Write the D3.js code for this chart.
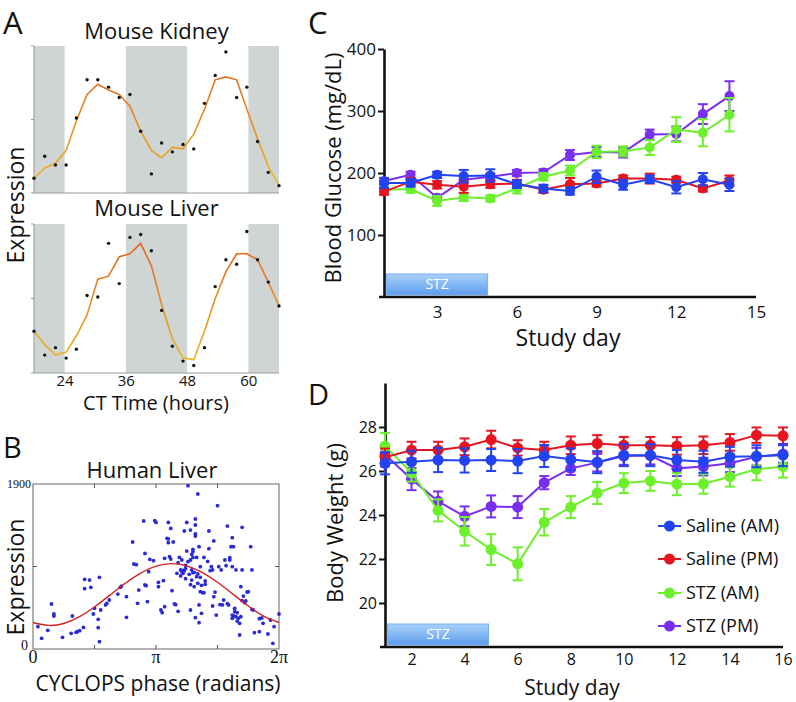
<!DOCTYPE html>
<html><head><meta charset="utf-8">
<script src="https://cdn.jsdelivr.net/npm/d3@7"></script>
<style>
body{margin:0;background:#fff;}
svg{display:block;}
text{font-family:"Open Sans",sans-serif;fill:#111;}
</style>
</head><body>
<svg id="fig" width="796" height="702"></svg>
<script>
// ---------- Panel A data ----------
const ctHours = [18,20.1,22.2,24.3,26.3,28.4,30.5,32.6,34.7,36.8,38.9,41.0,43.0,45.1,47.2,49.3,51.4,53.5,55.6,57.7,59.7,61.8,63.9,66];
const darkBands = [[18,24],[36,48],[60,66]];
const ctTicks = [24,36,48,60];
const kidneyObs = [0.10,0.25,0.19,0.19,0.51,0.77,0.77,0.72,0.65,0.67,0.42,0.13,0.34,0.28,0.33,0.30,0.61,0.80,0.96,0.65,0.72,0.35,0.14,0.05];
const kidneyFit = [0.10,0.17,0.20,0.29,0.49,0.67,0.74,0.70,0.67,0.59,0.42,0.29,0.24,0.31,0.30,0.40,0.57,0.77,0.79,0.77,0.57,0.37,0.18,0.05];
const liverObs = [0.28,0.12,0.17,0.10,0.16,0.52,0.51,0.87,0.60,0.91,0.93,0.82,0.42,0.18,0.08,0.05,0.17,0.58,0.76,0.73,0.95,0.76,0.61,0.45];
const liverFit = [0.28,0.19,0.12,0.14,0.25,0.39,0.63,0.65,0.78,0.80,0.87,0.72,0.46,0.23,0.10,0.09,0.28,0.50,0.68,0.80,0.80,0.76,0.61,0.45];

// ---------- Panel B data (phase in units of pi, expression) ----------
const phaseTicks = [0,1,2];
const phaseTickLabels = ["0","\u03c0","2\u03c0"];
const exprTicks = [0,1900];
const humanFitPhase = [0,0.125,0.25,0.375,0.5,0.625,0.75,0.875,1,1.125,1.25,1.375,1.5,1.625,1.75,1.875,2];
const humanFitExpr = [305,272,294,370,484,620,757,874,954,983,958,882,768,632,495,378,305];
const humanSamples = [[0.04,257],[0.07,123],[0.12,215],[0.15,518],[0.17,403],[0.17,380],[0.24,134],[0.32,380],[0.31,180],[0.35,192],[0.36,200],[0.38,211],[0.41,249],[0.42,802],[0.46,794],[0.42,695],[0.47,710],[0.49,403],[0.54,825],[0.53,342],[0.53,246],[0.54,84],[0.50,468],[0.55,449],
[0.59,507],[0.60,526],[0.62,564],[0.69,633],[0.71,710],[0.72,725],[0.76,365],[0.76,603],[0.81,1232],[0.82,979],[0.84,971],[0.85,526],[0.86,679],[0.91,1101],[0.91,737],[0.92,729],[0.93,545],[0.94,890],[0.95,1032],[0.98,1017],[0.90,1474],[0.99,1478],[1.00,1458],
[1.02,718],[1.02,768],[1.04,449],[1.05,418],[1.06,787],[1.07,487],[1.07,1044],[1.09,1274],[1.10,1267],[1.10,1224],[1.10,1458],[1.12,1389],[1.11,1063],[1.12,1036],[1.13,672],[1.14,1232],[1.15,518],[1.16,510],[1.17,871],[1.18,434],[1.18,994],[1.19,1055],[1.20,910],[1.20,841],[1.21,890],[1.21,1025],[1.22,906],[1.22,871],[1.23,902],[1.23,1359],[1.24,925],[1.24,963],[1.24,810],[1.25,1458],[1.25,1128],[1.26,1881],[1.26,1006],[1.27,860],[1.28,1370],[1.28,741],[1.28,449],[1.28,1025],[1.29,910],[1.29,794],[1.29,1090],[1.30,1055],[1.30,1148],[1.30,879],[1.30,1121],[1.31,718],[1.31,883],[1.32,1324],[1.32,1301],[1.32,1497],[1.32,1428],[1.32,361],[1.33,1055],[1.33,833],[1.34,864],[1.34,756],[1.34,1785],[1.35,1178],[1.35,507],[1.35,303],[1.36,948],[1.36,825],[1.36,660],[1.37,411],[1.37,733],[1.38,649],
[1.39,1055],[1.39,649],[1.40,783],[1.40,745],[1.42,1009],[1.43,1359],[1.43,1155],[1.44,902],[1.45,948],[1.46,495],[1.46,910],[1.47,1244],[1.47,603],[1.48,656],[1.49,391],[1.50,1650],[1.51,948],[1.52,510],[1.53,910],[1.54,507],[1.55,564],[1.56,1025],[1.57,960],[1.58,1416],[1.58,522],[1.59,507],[1.60,1025],[1.60,1052],[1.61,1178],[1.62,1282],[1.62,948],[1.62,391],[1.63,1178],[1.62,353],[1.63,380],[1.64,430],[1.64,468],[1.65,372],[1.65,910],[1.66,322],[1.66,418],[1.67,353],[1.68,161],[1.68,296],[1.69,718],[1.69,372],[1.70,910],[1.70,1401],[1.70,557],[1.71,610],[1.72,533],[1.73,553],[1.74,656],
[1.75,660],[1.77,1178],[1.78,910],[1.78,457],[1.79,449],[1.80,188],[1.84,200],[1.84,349],[1.86,357],[1.87,296],[1.91,173],[1.93,334],[1.95,65],[1.96,257],[2.00,403]];

// ---------- Panels C & D data ----------
const seriesNames = ["Saline (AM)","Saline (PM)","STZ (AM)","STZ (PM)"];
const seriesColors = ["#2143f2","#e5141e","#6cf02c","#7a2ff0"];
const drawOrder = [3,2,1,0];
const stzPeriod = [1.1, 4.9];

const glucoseDays = [1,2,3,4,5,6,7,8,9,10,11,12,13,14];
const glucoseTicksY = [100,200,300,400];
const glucoseTicksX = [3,6,9,12,15];
const glucoseSalineAM = [184,184,197,195,196,182,175,171,194,181,190,177,190,181];
const glucoseSalinePM = [170,186,181,178,182,183,173,182,183,191,191,189,175,188];
const glucoseStzAM    = [173,174,155,161,159,175,194,204,234,235,241,270,265,294];
const glucoseStzPM    = [187,197,160,189,194,200,201,229,234,233,262,263,295,324];
const glucoseErrSalineAM = [8,6,5,10,10,6,6,6,10,8,6,10,10,10];
const glucoseErrSalinePM = [5,5,6,10,6,6,5,10,5,5,8,5,5,8];
const glucoseErrStzAM    = [6,6,8,6,5,8,6,8,10,8,12,20,22,27];
const glucoseErrStzPM    = [5,5,5,6,5,5,5,8,8,8,8,12,16,24];

const weightDays = [1,2,3,4,5,6,7,8,9,10,11,12,13,14,15,16];
const weightTicksY = [20,22,24,26,28];
const weightTicksX = [2,4,6,8,10,12,14,16];
const weightSalineAM = [26.35,26.42,26.5,26.48,26.5,26.45,26.68,26.53,26.4,26.72,26.72,26.5,26.42,26.65,26.67,26.72];
const weightSalinePM = [26.62,26.95,26.95,27.1,27.43,27.05,26.95,27.17,27.25,27.17,27.17,27.14,27.17,27.3,27.63,27.6];
const weightStzAM    = [27.13,25.92,24.21,23.26,22.43,21.78,23.67,24.36,25.0,25.45,25.55,25.4,25.42,25.74,26.08,26.2];
const weightStzPM    = [26.75,25.63,24.62,23.94,24.39,24.36,25.47,26.12,26.38,26.68,26.7,26.12,26.2,26.35,26.65,26.77];
const weightErrSalineAM = [0.5,0.5,0.55,0.55,0.5,0.55,0.5,0.5,0.5,0.5,0.5,0.45,0.5,0.45,0.5,0.5];
const weightErrSalinePM = [0.4,0.38,0.38,0.38,0.4,0.35,0.38,0.4,0.38,0.38,0.38,0.4,0.4,0.38,0.35,0.38];
const weightErrStzAM    = [0.6,0.4,0.5,0.65,0.7,0.75,0.6,0.5,0.5,0.45,0.45,0.5,0.45,0.45,0.5,0.5];
const weightErrStzPM    = [0.3,0.5,0.45,0.45,0.5,0.5,0.3,0.3,0.4,0.4,0.4,0.35,0.4,0.4,0.4,0.4];

const svg = d3.select("#fig");
const defs = svg.append("defs");

// ---------- Panel A ----------
const xA = d3.scaleLinear().domain([18,66]).range([34,279]);
const aPanels = [
  {title:"Mouse Kidney", top:46, bottom:193, obs:kidneyObs, fit:kidneyFit, titleY:39, axis:false},
  {title:"Mouse Liver",  top:224, bottom:373, obs:liverObs,  fit:liverFit,  titleY:216, axis:true}
];
aPanels.forEach((p,k)=>{
  const y = d3.scaleLinear().domain([0,1]).range([p.bottom,p.top]);
  const g = svg.append("g");
  g.selectAll("rect.band").data(darkBands).join("rect")
    .attr("x",d=>xA(d[0])).attr("width",d=>xA(d[1])-xA(d[0]))
    .attr("y",p.top).attr("height",p.bottom-p.top).attr("fill","#cfd5d5");
  g.append("line").attr("x1",xA(18)).attr("x2",xA(18)).attr("y1",p.top).attr("y2",p.bottom).attr("stroke","#9a9a9a").attr("stroke-width",1);
  g.append("line").attr("x1",xA(18)).attr("x2",xA(66)).attr("y1",p.bottom).attr("y2",p.bottom).attr("stroke","#9a9a9a").attr("stroke-width",1);
  [0,0.5,1].forEach(v=>g.append("line").attr("x1",xA(18)-3).attr("x2",xA(18)).attr("y1",y(v)).attr("y2",y(v)).attr("stroke","#9a9a9a"));
  const gid = "fitGrad"+k;
  const lg = defs.append("linearGradient").attr("id",gid).attr("gradientUnits","userSpaceOnUse")
    .attr("x1",0).attr("x2",0).attr("y1",p.top).attr("y2",p.bottom);
  lg.append("stop").attr("offset","0%").attr("stop-color","#e2561a");
  lg.append("stop").attr("offset","100%").attr("stop-color","#eebd22");
  g.append("path").datum(p.fit)
    .attr("d",d3.line().x((d,i)=>xA(ctHours[i])).y(d=>y(d)))
    .attr("fill","none").attr("stroke","url(#"+gid+")").attr("stroke-width",1.6);
  g.selectAll("circle").data(p.obs).join("circle")
    .attr("cx",(d,i)=>xA(ctHours[i])).attr("cy",d=>y(d)).attr("r",1.7).attr("fill","#111");
  svg.append("text").attr("x",(xA(18)+xA(66))/2).attr("y",p.titleY).attr("text-anchor","middle")
    .attr("font-size",22).text(p.title);
  if(p.axis){
    const ax = svg.append("g").attr("transform",`translate(0,${p.bottom})`)
      .call(d3.axisBottom(xA).tickValues(ctTicks).tickSize(0).tickPadding(2));
    ax.select(".domain").remove();
    ax.selectAll("text").attr("font-size",15).attr("font-family","Open Sans, sans-serif").attr("fill","#111");
  }
});
svg.append("text").attr("x",156).attr("y",410).attr("text-anchor","middle").attr("font-size",20).text("CT Time (hours)");
svg.append("text").attr("transform","translate(24,205) rotate(-90)").attr("text-anchor","middle").attr("font-size",23).text("Expression");
svg.append("text").attr("x",3).attr("y",34).attr("font-size",31).text("A");

// ---------- Panel B ----------
const xB = d3.scaleLinear().domain([0,2]).range([33,279]);
const yB = d3.scaleLinear().domain([0,1900]).range([649,484]);
const gB = svg.append("g");
gB.append("rect").attr("x",xB(0)).attr("y",yB(1900)).attr("width",xB(2)-xB(0)).attr("height",yB(0)-yB(1900))
  .attr("fill","none").attr("stroke","#555").attr("stroke-width",0.9);
[0.5,1,1.5].forEach(v=>{
  gB.append("line").attr("x1",xB(v)).attr("x2",xB(v)).attr("y1",yB(0)).attr("y2",yB(0)-4).attr("stroke","#555");
  gB.append("line").attr("x1",xB(v)).attr("x2",xB(v)).attr("y1",yB(1900)).attr("y2",yB(1900)+4).attr("stroke","#555");
});
gB.append("line").attr("x1",xB(0)).attr("x2",xB(0)+4).attr("y1",yB(950)).attr("y2",yB(950)).attr("stroke","#555");
gB.append("line").attr("x1",xB(2)).attr("x2",xB(2)-4).attr("y1",yB(950)).attr("y2",yB(950)).attr("stroke","#555");
gB.selectAll("circle").data(humanSamples).join("circle")
  .attr("cx",d=>xB(d[0])).attr("cy",d=>yB(d[1])).attr("r",1.9).attr("fill","#2a2ad6");
gB.append("path").datum(humanFitPhase.map((p,i)=>[p,humanFitExpr[i]]))
  .attr("d",d3.line().x(d=>xB(d[0])).y(d=>yB(d[1])).curve(d3.curveNatural))
  .attr("fill","none").attr("stroke","#d42020").attr("stroke-width",1.4);
gB.selectAll("text.pt").data(phaseTicks).join("text").attr("class","pt")
  .attr("x",d=>xB(d)).attr("y",663).attr("text-anchor","middle")
  .style("font-family","Liberation Serif, serif").attr("font-size",18)
  .text((d,i)=>phaseTickLabels[i]);
gB.selectAll("text.et").data(exprTicks).join("text").attr("class","et")
  .attr("x",d=>d===0?28:31).attr("y",d=>d===0?yB(d)+1:yB(d)+4).attr("text-anchor","end")
  .style("font-family","Liberation Serif, serif").attr("font-size",d=>d===0?14:12)
  .text(d=>d);
svg.append("text").attr("x",152).attr("y",478).attr("text-anchor","middle").attr("font-size",22).text("Human Liver");
svg.append("text").attr("x",158).attr("y",691).attr("text-anchor","middle").attr("font-size",21).text("CYCLOPS phase (radians)");
svg.append("text").attr("transform","translate(24,577) rotate(-90)").attr("text-anchor","middle").attr("font-size",23).text("Expression");
svg.append("text").attr("x",3).attr("y",458).attr("font-size",29).text("B");

// ---------- Panels C & D ----------
function groupPanel(cfg){
  const g = svg.append("g");
  const x = cfg.x, y = cfg.y;
  const y0 = y.range()[0];
  const gid = cfg.id+"stz";
  const lg = defs.append("linearGradient").attr("id",gid).attr("x1",0).attr("x2",0).attr("y1",0).attr("y2",1);
  lg.append("stop").attr("offset","0%").attr("stop-color","#a9d2fa");
  lg.append("stop").attr("offset","100%").attr("stop-color","#5d9ded");
  g.append("rect").attr("x",x(stzPeriod[0])).attr("width",x(stzPeriod[1])-x(stzPeriod[0]))
    .attr("y",y0-23).attr("height",21).attr("fill","url(#"+gid+")").attr("stroke","#78aef0").attr("stroke-width",1);
  g.append("text").attr("x",(x(stzPeriod[0])+x(stzPeriod[1]))/2).attr("y",y0-8).attr("text-anchor","middle")
    .attr("font-size",14).style("fill","#fff").text("STZ");
  const ay = g.append("g").attr("transform",`translate(${x(cfg.days[0])},0)`)
    .call(d3.axisLeft(y).tickValues(cfg.ticksY).tickSize(6).tickSizeOuter(0).tickPadding(2));
  ay.select(".domain").attr("stroke","#111").attr("stroke-width",2.6);
  ay.selectAll(".tick line").attr("stroke","#111").attr("stroke-width",2);
  ay.selectAll("text").attr("font-size",cfg.tickFont).attr("font-family","Open Sans, sans-serif").attr("fill","#111");
  const ax = g.append("g").attr("transform",`translate(0,${y0})`)
    .call(d3.axisBottom(x).tickValues(cfg.ticksX).tickSize(0).tickSizeOuter(0).tickPadding(cfg.xPad));
  ax.select(".domain").remove();
  ax.selectAll("text").attr("font-size",cfg.tickFont).attr("font-family","Open Sans, sans-serif").attr("fill","#111");
  g.append("line").attr("x1",x(cfg.days[0])-5).attr("x2",x.range()[1]).attr("y1",y0).attr("y2",y0)
    .attr("stroke","#111").attr("stroke-width",2.6);
  drawOrder.forEach(si=>{
    const vals = cfg.values[si], errs = cfg.errors[si], col = seriesColors[si];
    const sg = g.append("g");
    sg.append("path").datum(vals)
      .attr("d",d3.line().x((d,i)=>x(cfg.days[i])).y(d=>y(d)))
      .attr("fill","none").attr("stroke",col).attr("stroke-width",2);
    vals.forEach((v,i)=>{
      const cx = x(cfg.days[i]);
      sg.append("line").attr("x1",cx).attr("x2",cx).attr("y1",y(v-errs[i])).attr("y2",y(v+errs[i])).attr("stroke",col).attr("stroke-width",2);
      [v-errs[i],v+errs[i]].forEach(e=>sg.append("line").attr("x1",cx-5).attr("x2",cx+5).attr("y1",y(e)).attr("y2",y(e)).attr("stroke",col).attr("stroke-width",2));
    });
    sg.selectAll("circle").data(vals).join("circle")
      .attr("cx",(d,i)=>x(cfg.days[i])).attr("cy",d=>y(d)).attr("r",cfg.r).attr("fill",col);
  });
  svg.append("text").attr("transform",`translate(${cfg.ylabX},${cfg.ylabY}) rotate(-90)`).attr("text-anchor","middle")
    .attr("font-size",22).text(cfg.ylab);
  svg.append("text").attr("x",cfg.xlabX).attr("y",cfg.xlabY).attr("text-anchor","middle").attr("font-size",cfg.xlabSize).text("Study day");
  svg.append("text").attr("x",308).attr("y",cfg.letterY).attr("font-size",cfg.letterSize).text(cfg.letter);
}

groupPanel({
  id:"C", letter:"C", letterY:34, letterSize:31,
  x:d3.scaleLinear().domain([1,15]).range([384,756]),
  y:d3.scaleLinear().domain([0,400]).range([297,49]),
  days:glucoseDays, ticksX:glucoseTicksX, ticksY:glucoseTicksY, tickFont:17, r:5, xPad:9,
  values:[glucoseSalineAM,glucoseSalinePM,glucoseStzAM,glucoseStzPM],
  errors:[glucoseErrSalineAM,glucoseErrSalinePM,glucoseErrStzAM,glucoseErrStzPM],
  ylab:"Blood Glucose (mg/dL)", ylabX:341, ylabY:168, xlabX:568, xlabY:346, xlabSize:23
});
groupPanel({
  id:"D", letter:"D", letterY:405, letterSize:29,
  x:d3.scaleLinear().domain([1,16]).range([385,783]),
  y:d3.scaleLinear().domain([18,30]).range([647,383]),
  days:weightDays, ticksX:weightTicksX, ticksY:weightTicksY, tickFont:16, r:5.5, xPad:7,
  values:[weightSalineAM,weightSalinePM,weightStzAM,weightStzPM],
  errors:[weightErrSalineAM,weightErrSalinePM,weightErrStzAM,weightErrStzPM],
  ylab:"Body Weight (g)", ylabX:343, ylabY:523, xlabX:572, xlabY:695, xlabSize:21
});

const legY = [526,559,593,626];
const lgG = svg.append("g");
seriesNames.forEach((n,i)=>{
  lgG.append("line").attr("x1",658).attr("x2",681).attr("y1",legY[i]).attr("y2",legY[i]).attr("stroke",seriesColors[i]).attr("stroke-width",2);
  lgG.append("circle").attr("cx",669.5).attr("cy",legY[i]).attr("r",5.5).attr("fill",seriesColors[i]);
  lgG.append("text").attr("x",686).attr("y",legY[i]+6).attr("font-size",18).text(n);
});
</script>
</body></html>
